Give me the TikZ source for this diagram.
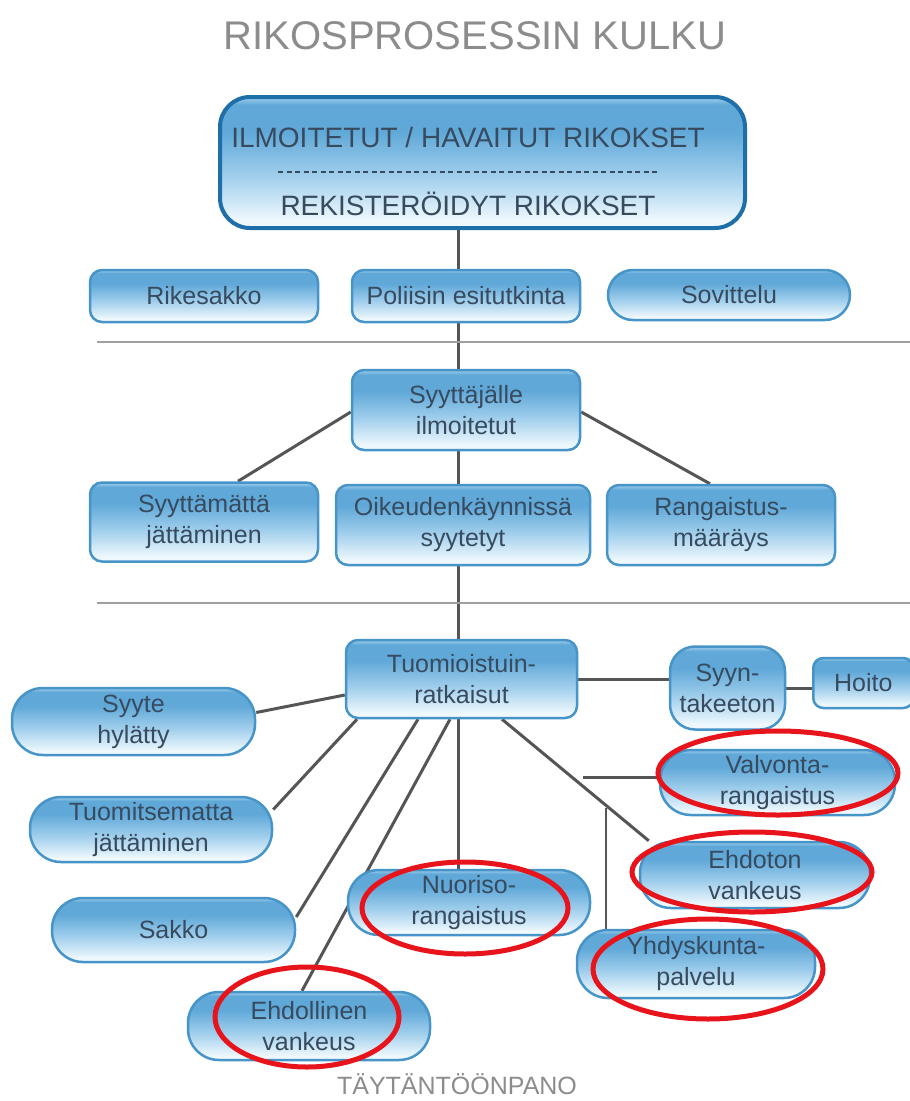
\documentclass[tikz,border=0pt]{standalone}
\usepackage{fontspec}
\setmainfont{Liberation Sans}
\usetikzlibrary{calc}
\pgfdeclarelayer{background}
\pgfdeclarelayer{front}
\pgfsetlayers{background,main,front}
\definecolor{boxtop}{RGB}{95,168,216}
\definecolor{boxmid}{RGB}{160,206,236}
\definecolor{boxbot}{RGB}{238,248,253}
\definecolor{boxedge}{RGB}{70,148,200}
\definecolor{topedge}{RGB}{30,110,168}
\definecolor{boxtext}{RGB}{55,74,94}
\definecolor{linegray}{RGB}{85,85,85}
\definecolor{sepgray}{RGB}{160,160,160}
\definecolor{titlegray}{RGB}{140,140,140}
\definecolor{markred}{RGB}{232,20,27}
\pgfdeclareverticalshading{boxshade}{100bp}{color(0bp)=(boxbot); color(28bp)=(boxbot); color(45bp)=(boxmid); color(62bp)=(boxtop); color(72bp)=(boxtop); color(75bp)=(boxmid); color(100bp)=(boxmid)}
\tikzset{
  x=1pt, y=-1pt,
  box/.style={draw=boxedge, line width=2.5pt, shading=boxshade,
    inner sep=0pt, align=center, text=boxtext,
    font=\fontsize{25}{31}\selectfont},
  rbox/.style={box, rounded corners=12pt},
  pill/.style={box, rounded corners=31pt},
  conn/.style={draw=linegray, line width=3pt},
  sepline/.style={draw=sepgray, line width=2pt},
  redmark/.style={draw=markred, line width=5pt},
  labeltext/.style={text=titlegray, inner sep=0pt}
}
\begin{document}
\begin{tikzpicture}
\useasboundingbox (0,0) rectangle (910,1101);
\begin{pgfonlayer}{background}
\fill[white] (0,0) rectangle (910,1101);
\end{pgfonlayer}

% title
\node[labeltext, font=\fontsize{40}{44}\selectfont] (title) at (475,36) {RIKOSPROSESSIN KULKU};

% top box
\node[box, draw=topedge, line width=4pt, rounded corners=30pt,
      minimum width=525pt, minimum height=131pt] (top) at (482.5,162.5) {};
\node[text=boxtext, inner sep=0pt, font=\fontsize{28}{32}\selectfont] (toptext1) at (468,137) {ILMOITETUT / HAVAITUT RIKOKSET};
\node[text=boxtext, inner sep=0pt, font=\fontsize{28}{32}\selectfont] (toptext2) at (468,204) {REKISTERÖIDYT RIKOKSET};
\coordinate (dashA) at (278,172);
\coordinate (dashB) at (660,172);
\draw[draw=boxtext, line width=1.8pt, dash pattern=on 5pt off 3.5pt] (dashA) -- (dashB);

\coordinate (spine) at (458,0);

% level 1
\node[rbox, minimum width=228pt, minimum height=52pt] (rikesakko) at (204,296) {Rikesakko};
\node[rbox, minimum width=228pt, minimum height=52pt] (poliisi) at (466,296) {Poliisin esitutkinta};
\node[pill, rounded corners=25pt, minimum width=242pt, minimum height=50pt] (sovittelu) at (729,295) {Sovittelu};

% separator 1
\coordinate (sep1a) at (97,342);
\coordinate (sep1b) at (910,342);
\draw[sepline] (sep1a) -- (sep1b);

% level 2
\node[rbox, minimum width=228pt, minimum height=80pt] (syyttajalle) at (466,410) {Syyttäjälle\\ilmoitetut};
\node[rbox, minimum width=228pt, minimum height=79pt] (syyttamatta) at (204,522) {Syyttämättä\\jättäminen};
\node[rbox, minimum width=254pt, minimum height=80pt] (oikeuden) at (463,525) {Oikeudenkäynnissä\\syytetyt};
\node[rbox, minimum width=228pt, minimum height=80pt] (rangaistus) at (721,525) {Rangaistus-\\määräys};

% separator 2
\coordinate (sep2a) at (97,603);
\coordinate (sep2b) at (910,603);
\draw[sepline] (sep2a) -- (sep2b);

% level 3
\node[rbox, minimum width=231pt, minimum height=78pt] (tuomio) at (461.5,679) {Tuomioistuin-\\ratkaisut};
\node[box, rounded corners=25pt, minimum width=115pt, minimum height=83pt] (syyn) at (727.5,688) {Syyn-\\takeeton};
\node[rbox, rounded corners=10pt, minimum width=100pt, minimum height=50pt, anchor=west] (hoito) at (812,683) {Hoito};
\node[pill, minimum width=243pt, minimum height=67pt] (syyte) at (133.5,721.5) {Syyte\\hylätty};
\node[pill, minimum width=235pt, minimum height=65pt] (valvonta) at (777.5,782.5) {Valvonta-\\rangaistus};
\node[pill, minimum width=242pt, minimum height=65pt] (tuomitsematta) at (151,829.5) {Tuomitsematta\\jättäminen};
\node[pill, minimum width=230pt, minimum height=66pt] (ehdoton) at (755,875) {Ehdoton\\vankeus};
\node[pill, minimum width=242pt, minimum height=65pt] (nuoriso) at (469,902.5) {Nuoriso-\\rangaistus};
\node[pill, minimum width=243pt, minimum height=64pt] (sakko) at (173.5,930) {Sakko};
\node[pill, minimum width=238pt, minimum height=68pt] (yhdyskunta) at (696,964) {Yhdyskunta-\\palvelu};
\node[pill, minimum width=242pt, minimum height=68pt] (ehdollinen) at (309,1026) {Ehdollinen\\vankeus};

\node[labeltext, font=\fontsize{25}{29}\selectfont] (taytanto) at (457,1084) {TÄYTÄNTÖÖNPANO};

\coordinate (vfree) at (583,777);
\coordinate (yfree) at (606,808);

% connectors
\begin{pgfonlayer}{background}
\draw[conn] (top.south -| spine) -- (poliisi.north -| spine);
\draw[conn] (poliisi.south -| spine) -- (syyttajalle.north -| spine);
\draw[conn] ([yshift=-2pt]syyttajalle.west) -- ([xshift=34pt]syyttamatta.north);
\draw[conn] ([yshift=-2pt]syyttajalle.east) -- ([xshift=-11pt]rangaistus.north);
\draw[conn] (syyttajalle.south -| spine) -- (oikeuden.north -| spine);
\draw[conn] (oikeuden.south -| spine) -- (tuomio.north -| spine);
\draw[conn] (tuomio.east) -- (tuomio.east -| syyn.west);
\draw[conn] (syyn.east) -- (syyn.east -| hoito.west);
\draw[conn] ([yshift=-16pt]tuomio.west) -- ([yshift=9pt]syyte.east);
\draw[conn] ([xshift=-104.5pt]tuomio.south) -- ([yshift=20pt]tuomitsematta.east);
\draw[conn] ([xshift=-43.5pt]tuomio.south) -- ([yshift=13pt]sakko.east);
\draw[conn] ([xshift=-11.5pt]tuomio.south) -- ([xshift=-7pt]ehdollinen.north);
\draw[conn] (tuomio.south -| spine) -- (nuoriso.north -| spine);
\draw[conn] ([xshift=40.5pt]tuomio.south) -- ([xshift=10pt]ehdoton.north west);
\draw[conn] (vfree) -- (vfree -| valvonta.west);
\draw[conn, line width=2.5pt] (yfree) -- (yfree |- yhdyskunta.north);
\end{pgfonlayer}

% red marks
\begin{pgfonlayer}{front}
\draw[redmark] (valvonta.center) ++(0.5,-9.5) ellipse [x radius=120, y radius=42];
\draw[redmark] (ehdoton.center) ++(-3,-3) ellipse [x radius=120, y radius=40];
\draw[redmark] (nuoriso.center) ++(-4,5.5) ellipse [x radius=103, y radius=46];
\draw[redmark] (yhdyskunta.center) ++(12,5) ellipse [x radius=115, y radius=50];
\draw[redmark] (ehdollinen.center) ++(-2,-9) ellipse [x radius=92, y radius=50];
\end{pgfonlayer}
\end{tikzpicture}
\end{document}
